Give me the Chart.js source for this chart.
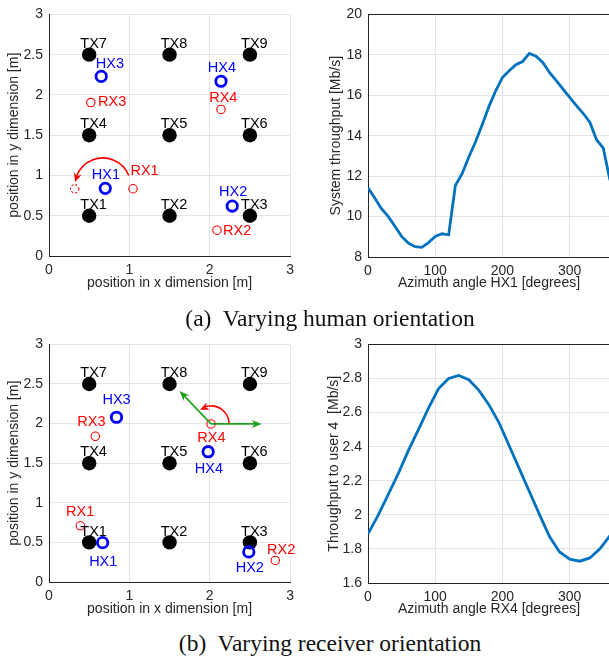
<!DOCTYPE html>
<html>
<head>
<meta charset="utf-8">
<script src="https://cdn.jsdelivr.net/npm/chart.js@4"></script>
<style>
  html,body{margin:0;padding:0;background:#fff;}
  body{width:609px;height:662px;overflow:hidden;position:relative;}
  canvas{position:absolute;}
  .cap{position:absolute;left:30px;width:600px;text-align:center;font-family:"Liberation Serif","Times New Roman",serif;font-size:23.5px;line-height:23.5px;color:#111;white-space:pre;}
</style>
</head>
<body>
<canvas id="a1" width="300" height="300" style="left:0;top:0"></canvas>
<canvas id="a2" width="320" height="300" style="left:300px;top:0"></canvas>
<canvas id="b1" width="300" height="300" style="left:0;top:330px"></canvas>
<canvas id="b2" width="320" height="300" style="left:300px;top:330px"></canvas>
<div class="cap" style="top:307px">(a)  Varying human orientation</div>
<div class="cap" style="top:632px">(b)  Varying receiver orientation</div>
<script>
// ---------- data ----------
const txNames = ['TX1','TX2','TX3','TX4','TX5','TX6','TX7','TX8','TX9'];
const txX = [0.5,1.5,2.5,0.5,1.5,2.5,0.5,1.5,2.5];
const txY = [0.5,0.5,0.5,1.5,1.5,1.5,2.5,2.5,2.5];
const hxNames = ['HX1','HX2','HX3','HX4'];
const rxNames = ['RX1','RX2','RX3','RX4'];

// (a) varying human orientation
const hxAX = [0.70,2.28,0.65,2.14];
const hxAY = [0.84,0.62,2.23,2.17];
const rxAX = [1.045,2.09,0.52,2.14];
const rxAY = [0.835,0.32,1.905,1.82];
const rx1TurnedA = [0.32,0.835];

// (b) varying receiver orientation
const hxBX = [0.667,2.486,0.84,1.98];
const hxBY = [0.497,0.38,2.08,1.645];
const rxBX = [0.39,2.815,0.576,2.016];
const rxBY = [0.71,0.273,1.84,1.996];
const rx4DirTipsB = [[2.646,1.996],[1.625,2.411]];

// throughput curves
const anglesHX1 = [0,10,20,30,40,50,60,70,80,90,100,110,120,130,140,150,160,170,180,190,200,210,220,230,240,250,260,270,280,290,300,310,320,330,340,350,360];
const systemThroughput = [11.43,10.92,10.39,10.01,9.52,9.02,8.69,8.51,8.48,8.71,9.02,9.15,9.10,11.54,12.12,12.95,13.70,14.55,15.45,16.22,16.88,17.21,17.51,17.67,18.07,17.93,17.62,17.13,16.72,16.31,15.90,15.49,15.11,14.67,13.80,13.38,11.80];
const anglesRX4 = [0,15,30,45,60,75,90,105,120,135,150,165,180,195,210,225,240,255,270,285,300,315,330,345,360];
const user4Throughput = [1.888,1.997,2.118,2.242,2.377,2.500,2.626,2.741,2.800,2.818,2.793,2.730,2.645,2.540,2.405,2.271,2.137,2.003,1.872,1.782,1.740,1.728,1.747,1.800,1.878];

// tick labels
const posYTicks = [0,0.5,1,1.5,2,2.5,3];
const posXTicks = [0,1,2,3];
const angleTicks = [0,100,200,300];
const sysTicks = [8,10,12,14,16,18,20];
const userTicks = [1.6,1.8,2,2.2,2.4,2.6,2.8,3];

// label anchors (text centres, data units)
const txLabelShift = [0.055,0.15];
const hxLabelPosA = [[0.708,1.017],[2.292,0.806],[0.757,2.397],[2.152,2.347]];
const rxLabelPosA = [[1.189,1.074],[2.342,0.322],[0.786,1.921],[2.169,1.975]];
const hxLabelPosB = [[0.675,0.269],[2.498,0.186],[0.84,2.313],[1.99,1.436]];
const rxLabelPosB = [[0.387,0.898],[2.889,0.422],[0.527,2.036],[2.02,1.829]];

// ---------- styling ----------
const FS = 14;
Chart.defaults.font.family = "'Liberation Sans', Arial, Helvetica, sans-serif";
Chart.defaults.font.size = FS;
Chart.defaults.color = '#262626';
const DARK = '#262626', GRID = '#e4e4e4';
const BLUE = '#0000ff', RED = '#ff0000', LINE = '#0072BD', GREEN = '#1e9e1e';
const LH = FS*1.2;

const annot = {
  id:'annot',
  afterDatasetsDraw(chart, args, o){
    const ctx = chart.ctx, xs = chart.scales.x, ys = chart.scales.y;
    const px = v => xs.getPixelForValue(v), py = v => ys.getPixelForValue(v);
    const head = (tx,ty,dx,dy,len,wid,color) => {
      const n = Math.hypot(dx,dy); dx/=n; dy/=n;
      const bx = tx-dx*len, by = ty-dy*len;
      ctx.beginPath();
      ctx.moveTo(tx,ty);
      ctx.lineTo(bx-dy*wid/2, by+dx*wid/2);
      ctx.lineTo(tx-dx*len*0.7, ty-dy*len*0.7);
      ctx.lineTo(bx+dy*wid/2, by-dx*wid/2);
      ctx.closePath();
      ctx.fillStyle = color; ctx.fill();
    };
    ctx.save();
    (o.dashed||[]).forEach(d => {
      ctx.beginPath(); ctx.setLineDash([2,2]); ctx.strokeStyle = d.color; ctx.lineWidth = 1.1;
      ctx.arc(px(d.x), py(d.y), d.r, 0, Math.PI*2); ctx.stroke(); ctx.setLineDash([]);
    });
    (o.arrows||[]).forEach(a => {
      const x0=px(a.x0), y0=py(a.y0), x1=px(a.x1), y1=py(a.y1);
      ctx.beginPath(); ctx.strokeStyle=a.color; ctx.lineWidth=a.lw;
      const dx=x1-x0, dy=y1-y0, n=Math.hypot(dx,dy);
      ctx.moveTo(x0,y0); ctx.lineTo(x1-dx/n*a.len*0.6, y1-dy/n*a.len*0.6); ctx.stroke();
      head(x1,y1,dx,dy,a.len,a.wid,a.color);
    });
    (o.arcs||[]).forEach(a => {
      const cx=px(a.x), cy=py(a.y), r=a.r, d2r=Math.PI/180;
      const endA = a.a1*d2r, backA = endA - a.len/r;
      ctx.beginPath(); ctx.strokeStyle=a.color; ctx.lineWidth=a.lw;
      ctx.arc(cx,cy,r,-a.a0*d2r,-(endA - a.len*0.6/r),true); ctx.stroke();
      const tx=cx+r*Math.cos(endA), ty=cy-r*Math.sin(endA);
      const bx=cx+r*Math.cos(backA), by=cy-r*Math.sin(backA);
      head(tx,ty,tx-bx,ty-by,a.len,a.wid,a.color);
    });
    ctx.font = "14.5px 'Liberation Sans', Arial, sans-serif";
    ctx.textAlign='center'; ctx.textBaseline='middle';
    (o.labels||[]).forEach(l => { ctx.fillStyle=l.color; ctx.fillText(l.text, px(l.x), py(l.y)+1); });
    ctx.restore();
  }
};

function scale(o){
  return {
    type:'linear', min:o.min, max:o.max,
    afterBuildTicks: s => { s.ticks = o.ticks.map(v => ({value:v})); },
    afterFit: s => { if (o.isX) s.height = o.size; else s.width = o.size; },
    ticks:{ padding:o.tickPad, color:DARK, font:{size:FS}, autoSkip:false, maxRotation:0,
            callback: v => String(+(+v).toFixed(2)) },
    grid:{ drawTicks:false, lineWidth:1,
           color: c => (o.darkMax && c.tick && Math.abs(c.tick.value-o.max)<1e-9) ? DARK : GRID },
    border:{ display:true, color:DARK, width:1 },
    title:{ display:true, text:o.title, color:DARK, font:{size:FS},
            padding: o.isX ? {top:0,bottom:o.titlePad} : {top:o.titlePad,bottom:0} }
  };
}

// geometry helper: canvas placement and desired plot area in page pixels
function geom(c, area, yTitleX, xTitleY){
  return {
    padding:{ top: area.t - c.top, right: c.left + c.w - area.r, left:0, bottom:0 },
    ySize: area.l - c.left,
    xSize: c.top + c.h - area.b,
    yTitlePad: (yTitleX - c.left) - LH/2,
    xTitlePad: (c.top + c.h - xTitleY) - LH/2
  };
}

function labelsFor(hxPos,rxPos){
  const L = [];
  txNames.forEach((t,i) => L.push({text:t, x:txX[i]+txLabelShift[0], y:txY[i]+txLabelShift[1], color:'#000'}));
  hxNames.forEach((t,i) => L.push({text:t, x:hxPos[i][0], y:hxPos[i][1], color:BLUE}));
  rxNames.forEach((t,i) => L.push({text:t, x:rxPos[i][0], y:rxPos[i][1], color:RED}));
  return L;
}

function roomChart(id, g, hxX, hxY, rxX, rxY, annotOpts){
  const pts = (xs,ys) => xs.map((x,i) => ({x, y:ys[i]}));
  return new Chart(document.getElementById(id), {
    type:'scatter',
    data:{ datasets:[
      { label:'TX', data:pts(txX,txY), pointRadius:7.2, backgroundColor:'#000', borderWidth:0, order:3 },
      { label:'RX', data:pts(rxX,rxY), pointRadius:4.2, backgroundColor:'rgba(0,0,0,0)', borderColor:RED, borderWidth:1.1, order:2 },
      { label:'HX', data:pts(hxX,hxY), pointRadius:5.2, backgroundColor:'rgba(0,0,0,0)', borderColor:BLUE, borderWidth:2.8, order:1 }
    ]},
    options:{
      responsive:false, animation:false, events:[],
      layout:{ padding:g.padding },
      plugins:{ legend:{display:false}, tooltip:{enabled:false}, annot:annotOpts },
      scales:{
        x: scale({min:0,max:3,ticks:posXTicks,isX:true,size:g.xSize,tickPad:6,title:'position in x dimension [m]',titlePad:g.xTitlePad}),
        y: scale({min:0,max:3,ticks:posYTicks,isX:false,size:g.ySize,tickPad:6,title:'position in y dimension [m]',titlePad:g.yTitlePad})
      }
    },
    plugins:[annot]
  });
}

function curveChart(id, g, xs, ys, yMin, yMax, yTicks, xTitle, yTitle){
  return new Chart(document.getElementById(id), {
    type:'scatter',
    data:{ datasets:[{ data: xs.map((x,i)=>({x, y:ys[i]})), showLine:true, borderColor:LINE, borderWidth:2.8, pointRadius:0, tension:0 }]},
    options:{
      responsive:false, animation:false, events:[],
      layout:{ padding:g.padding },
      plugins:{ legend:{display:false}, tooltip:{enabled:false} },
      scales:{
        x: scale({min:0,max:360,ticks:angleTicks,isX:true,size:g.xSize,tickPad:6,title:xTitle,titlePad:g.xTitlePad}),
        y: scale({min:yMin,max:yMax,ticks:yTicks,isX:false,size:g.ySize,tickPad:6,title:yTitle,titlePad:g.yTitlePad,darkMax:true})
      }
    }
  });
}

// (a) left
roomChart('a1',
  geom({left:0,top:0,w:300,h:300},{l:49,t:14,r:292,b:256},14,283),
  hxAX,hxAY,rxAX,rxAY,
  { labels: labelsFor(hxLabelPosA,rxLabelPosA),
    dashed: [{x:rx1TurnedA[0], y:rx1TurnedA[1], r:4.2, color:RED}],
    arcs: [{x:0.67, y:0.87, r:28, a0:22, a1:172, color:RED, lw:1.6, len:9, wid:8}] });

// (a) right
curveChart('a2',
  geom({left:300,top:0,w:320,h:300},{l:368,t:14,r:610,b:257},336,283),
  anglesHX1, systemThroughput, 8, 20, sysTicks,
  'Azimuth angle HX1 [degrees]', 'System throughput [Mb/s]');

// (b) left
roomChart('b1',
  geom({left:0,top:330,w:300,h:300},{l:49,t:341,r:292,b:582},14,609),
  hxBX,hxBY,rxBX,rxBY,
  { labels: labelsFor(hxLabelPosB,rxLabelPosB),
    arrows: rx4DirTipsB.map(t => ({x0:rxBX[3], y0:rxBY[3], x1:t[0], y1:t[1], color:GREEN, lw:1.6, len:10, wid:8})),
    arcs: [{x:rxBX[3], y:rxBY[3], r:18, a0:2, a1:128, color:RED, lw:1.6, len:9, wid:8}] });

// (b) right
curveChart('b2',
  geom({left:300,top:330,w:320,h:300},{l:368,t:341,r:610,b:583},334,609),
  anglesRX4, user4Throughput, 1.6, 3, userTicks,
  'Azimuth angle RX4 [degrees]', 'Throughput to user 4  [Mb/s]');
</script>
</body>
</html>
